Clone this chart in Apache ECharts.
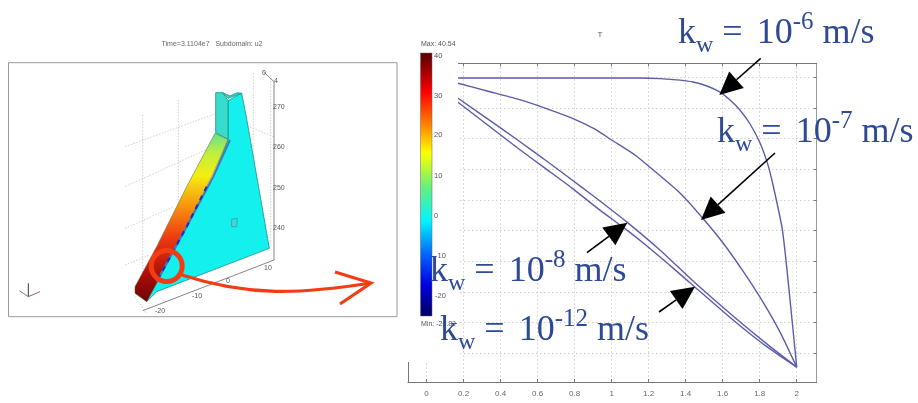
<!DOCTYPE html>
<html><head><meta charset="utf-8">
<style>html,body{margin:0;padding:0;background:#fff}#c{width:918px;height:403px}</style>
<script src="https://cdn.jsdelivr.net/npm/echarts@6/dist/echarts.min.js"></script>
</head><body><div id="c"></div>
<script>
// ---- data ----
const xTicks = [0,0.2,0.4,0.6,0.8,1,1.2,1.4,1.6,1.8,2];
const yTicks = [0,10,20,30,40,50,60,70,80,90];
const kw6  = [[.17,89.8],[1.153,89.8],[1.261,89.6],[1.369,89.1],[1.44,88.5],[1.515,87.2],[1.586,85.2],[1.64,82.6],[1.694,79.3],[1.748,74.8],[1.802,68.6],[1.845,61.4],[1.872,54.9],[1.921,40.9],[1.942,30.4],[1.964,17.4],[2,-4.5]];
const kw7  = [[.17,88.1],[.332,85.5],[.494,82.9],[.64,80],[.786,76.7],[.91,73.1],[1.002,69.5],[1.126,64.7],[1.207,60.7],[1.369,52.3],[1.488,44.4],[1.602,36],[1.71,26.8],[1.818,16.7],[1.91,6.9],[2,-4.5]];
const kw8  = [[.17,83.2],[.332,76.4],[.494,69.5],[.656,62.4],[.845,53.9],[.937,49.7],[1.083,42.8],[1.261,33.7],[1.44,23.6],[1.656,12.2],[1.84,3],[2,-4.5]];
const kw12 = [[.17,81.9],[.332,74.4],[.494,66.9],[.64,60.4],[.786,53.9],[.937,46.7],[1.083,40.2],[1.191,35],[1.332,27.8],[1.445,21.9],[1.656,10.9],[1.84,2.1],[2,-4.5]];
const colorbarTicks = ['40','30','20','10','0','-10','-20'];
const colorbarTickY = [56,96,135,176,216,256,296];
const dz = ['270','260','250','240'];

const LINE='#5c5cab', GRID='#cfcfcf', AX='#777', BLUE='#2e4a94', RED='#f23d14';
const SANS='"Liberation Sans",Arial,sans-serif', SERIF='"Liberation Serif","Times New Roman",serif';
const els=[];
const P=(x,y)=>[x/3,30+y/3];           // left panel helper
const poly=(pts,fill,stroke,z,lw)=>els.push({type:'polygon',silent:true,z:z||6,shape:{points:pts.map(p=>P(p[0],p[1]))},style:{fill:fill,stroke:stroke||null,lineWidth:lw||0.8}});
const dash=(pts,c)=>els.push({type:'polyline',silent:true,z:6,shape:{points:pts.map(p=>P(p[0],p[1]))},style:{stroke:c||'#c4c4c4',lineWidth:.8,lineDash:[1.5,1.5],fill:null}});
const small=(t,x,y,o)=>els.push({type:'text',silent:true,z:(o&&o.z)||12,x:x,y:y,style:Object.assign({text:t,font:'8px '+SANS,fill:'#555',textAlign:'left',textVerticalAlign:'middle'},o||{})});

// white cover behind colour bar
els.push({type:'rect',silent:true,z:5,shape:{x:400,y:0,width:58,height:362},style:{fill:'#fff'}});
els.push({type:'rect',silent:true,z:5,shape:{x:400,y:0,width:420,height:62},style:{fill:'#fff'}});

// left panel frame + title
els.push({type:'rect',silent:true,z:6,shape:{x:8.5,y:62.7,width:388.5,height:254},style:{fill:'#fff',stroke:'#9a9a9a',lineWidth:1}});
small('Time=3.1104e7   Subdomain: u2',212,44,{font:'7px '+SANS,textAlign:'center',fill:'#666'});

// dotted 3-D grid
[[[428,255],[428,790]],[[535,210],[535,700]],[[760,130],[760,600]],[[812,135],[812,640]],
 [[375,350],[650,250]],[[375,470],[650,345]],[[375,595],[520,530]],[[375,705],[450,675]],
 [[650,250],[820,320]],[[405,800],[440,850]]].forEach(s=>dash(s));
// plate
poly([[684,330],[684,212],[725,190],[738,255],[808,655],[470,785],[440,815],[470,745],[560,590],[640,440]],'#14f0ee','#1f8f80',7);
poly([[647,188],[668,188],[684,212],[684,328],[647,308]],'#38dccc','#1f8f80',7);
poly([[668,188],[684,205],[725,190],[712,188],[690,198]],'#30d8d0','#1f8f80',7);
// hot slab
els.push({type:'polygon',silent:true,z:8,shape:{points:[[645,310],[684,328],[640,430],[560,590],[470,760],[440,815],[405,790],[405,770],[470,650],[560,470]].map(p=>P(p[0],p[1]))},
 style:{stroke:'#5a5a30',lineWidth:.5,fill:new echarts.graphic.LinearGradient(0,0,0,1,[{offset:0,color:'#63e38c'},{offset:.12,color:'#c0ef40'},{offset:.25,color:'#f5ee12'},{offset:.42,color:'#f79a0e'},{offset:.62,color:'#ee3a10'},{offset:.85,color:'#a80c08'},{offset:1,color:'#6a0404'}])}});
// blue strip along the wet face
els.push({type:'polyline',silent:true,z:9,shape:{points:[[690,330],[640,440],[560,590],[470,755]].map(p=>P(p[0],p[1]))},style:{stroke:'#3d7fb5',lineWidth:2,fill:null}});
els.push({type:'polyline',silent:true,z:9,shape:{points:[[620,470],[560,590],[470,755]].map(p=>P(p[0],p[1]))},style:{stroke:'#1c2ccc',lineWidth:2,lineDash:[5,5],fill:null}});
poly([[695,568],[712,565],[710,590],[695,590]],'#30e0e0','#5a8a8a',9);
// 3-D axes
els.push({type:'polyline',silent:true,z:9,shape:{points:[[790,125],[822,155],[822,690],[428,842]].map(p=>P(p[0],p[1]))},style:{stroke:'#666',lineWidth:.8,fill:null}});
dz.forEach((t,i)=>small(t,273,[107,147.5,188,228.5][i],{font:'7px '+SANS}));
small('0',262,73,{font:'7px '+SANS}); small('4',274,81.5,{font:'7px '+SANS});
[['10',264,268.5],['0',226,281.5],['-10',192,296.5],['-20',155,311]].forEach(a=>small(a[0],a[1],a[2],{font:'7px '+SANS}));
// triad
[[[85,800],[85,760],'#335'],[[85,800],[58,782],'#5a9a5a'],[[85,800],[120,785],'#a05a5a']].forEach(a=>els.push({type:'line',silent:true,z:9,shape:{x1:P(...a[0])[0],y1:P(...a[0])[1],x2:P(...a[1])[0],y2:P(...a[1])[1]},style:{stroke:a[2],lineWidth:1}}));

// colour bar
els.push({type:'rect',silent:true,z:8,shape:{x:420.5,y:53,width:11.5,height:263},style:{stroke:'#666',lineWidth:.5,fill:new echarts.graphic.LinearGradient(0,0,0,1,[
 {offset:0,color:'#5a0000'},{offset:.05,color:'#8a0000'},{offset:.15,color:'#ff0000'},{offset:.27,color:'#ff8000'},{offset:.38,color:'#ffff00'},{offset:.51,color:'#66f07a'},{offset:.64,color:'#00f4ff'},{offset:.77,color:'#0060ff'},{offset:.88,color:'#0000e0'},{offset:1,color:'#000060'}])}});
colorbarTicks.forEach((t,i)=>{small(t,t[0]==='-'?435:434,colorbarTickY[i],{font:'7.5px '+SANS});});
small('Max: 40.54',421,44.5,{font:'7px '+SANS}); small('Min: -20.82',421,324,{font:'7px '+SANS});
small('T',600,35,{font:'8px '+SANS,textAlign:'center'});

// red pointer
els.push({type:'circle',silent:true,z:15,shape:{cx:166.7,cy:266,r:15.5},style:{fill:null,stroke:RED,lineWidth:5}});
els.push({type:'bezierCurve',silent:true,z:15,shape:{x1:182,y1:275,cpx1:250,cpy1:297,cpx2:300,cpy2:294,x2:371,y2:283},style:{fill:null,stroke:RED,lineWidth:3.2}});
els.push({type:'polyline',silent:true,z:15,shape:{points:[[335,272],[371,283],[340,304]]},style:{fill:null,stroke:RED,lineWidth:3.2}});

// black arrows
function arrow(x0,y0,x1,y1){const L=Math.hypot(x1-x0,y1-y0),u=(x1-x0)/L,v=(y1-y0)/L,h=23,w=11;
 const bx=x1-u*h,by=y1-v*h;
 els.push({type:'line',silent:true,z:16,shape:{x1:x0,y1:y0,x2:bx,y2:by},style:{stroke:'#000',lineWidth:1.6}});
 els.push({type:'polygon',silent:true,z:16,shape:{points:[[x1,y1],[bx-v*w,by+u*w],[bx+v*w,by-u*w]]},style:{fill:'#000'}});}
arrow(760.7,58.3,719.3,95); arrow(775,153,701,220); arrow(587,252.7,627.3,222.7); arrow(659,312,695,286.7);

// labels
function kw(exp,x,base){els.push({type:'text',silent:true,z:20,x:x,y:base-35.5,style:{
 text:'{m|k}{s|w}{m| =}{n|10}{u|'+exp+'}{m| m/s}',textVerticalAlign:'top',fill:BLUE,
 rich:{m:{font:'36px '+SERIF,fill:BLUE,lineHeight:48,verticalAlign:'middle'},
       n:{font:'36px '+SERIF,fill:BLUE,lineHeight:48,verticalAlign:'middle',padding:[0,0,0,14]},
       s:{font:'24px '+SERIF,fill:BLUE,lineHeight:40,verticalAlign:'bottom'},
       u:{font:'25px '+SERIF,fill:BLUE,lineHeight:23,verticalAlign:'top'}}}});}
kw('-6',678,45); kw('-7',717,144); kw('-8',430,283); kw('-12',440,342);

const mk=(d,n)=>({name:n,type:'line',data:d,smooth:.2,showSymbol:false,symbol:'none',z:3,lineStyle:{color:LINE,width:1.4},silent:true});
const chart=echarts.init(document.getElementById('c'),null,{renderer:'canvas'});
const gridLine={show:true,lineStyle:{color:GRID,type:[1.5,2.5],width:1}};
const XMIN=-0.1,XMAX=2.108,YMIN=-9.35,YMAX=94.6;
chart.setOption({animation:false,backgroundColor:'#fff',
 grid:{left:408,top:63.3,width:408.7,height:318.7,show:false,containLabel:false},
 xAxis:[{type:'value',min:XMIN,max:XMAX,position:'bottom',
   axisLine:{show:true,onZero:false,lineStyle:{color:AX,width:1}},axisTick:{show:true,inside:true,length:3,customValues:xTicks,lineStyle:{color:AX}},
   axisLabel:{show:true,customValues:xTicks,color:'#666',fontSize:8,fontFamily:SANS,margin:8},splitLine:gridLine},
  {type:'value',min:XMIN,max:XMAX,position:'top',axisLine:{show:true,onZero:false,lineStyle:{color:AX}},axisTick:{show:true,inside:true,length:3,customValues:xTicks,lineStyle:{color:AX}},axisLabel:{show:false,customValues:xTicks},splitLine:{show:false}}],
 yAxis:[{type:'value',min:YMIN,max:YMAX,position:'left',axisLine:{show:true,onZero:false,lineStyle:{color:AX}},axisTick:{show:false,customValues:yTicks},axisLabel:{show:false,customValues:yTicks},splitLine:gridLine},
  {type:'value',min:YMIN,max:YMAX,position:'right',axisLine:{show:true,onZero:false,lineStyle:{color:'#999'}},axisTick:{show:true,inside:true,length:3,customValues:yTicks,lineStyle:{color:AX}},axisLabel:{show:false,customValues:yTicks},splitLine:{show:false}}],
 series:[mk(kw6,'kw=1e-6'),mk(kw7,'kw=1e-7'),mk(kw8,'kw=1e-8'),mk(kw12,'kw=1e-12')],
 graphic:{elements:els}
});
</script></body></html>
